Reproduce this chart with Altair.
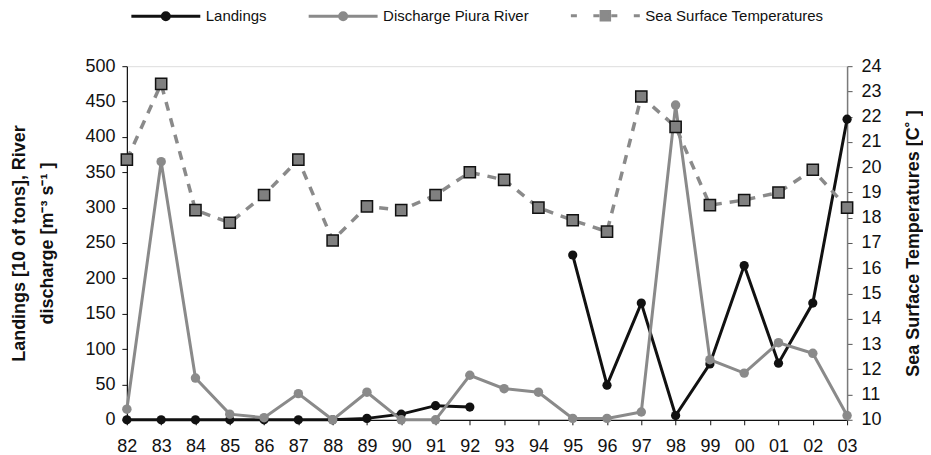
import altair as alt
import pandas as pd

years = ["82", "83", "84", "85", "86", "87", "88", "89", "90", "91", "92",
         "93", "94", "95", "96", "97", "98", "99", "00", "01", "02", "03"]
landings = [0, 0, 0, 0, 0, 0, 0, 2, 8, 20, 18,
            None, None, 233, 49, 165, 6, 79, 218, 80, 165, 425]
discharge = [15, 365, 59, 8, 3, 37, 0, 39, 0, 0, 63,
             44, 39, 2, 2, 11, 445, 85, 66, 109, 94, 6]
sst = [20.3, 23.3, 18.3, 17.8, 18.9, 20.3, 17.1, 18.45, 18.3, 18.9, 19.8,
       19.5, 18.4, 17.9, 17.45, 22.8, 21.6, 18.5, 18.7, 19.0, 19.9, 18.4]

series = ["Landings", "Discharge Piura River", "Sea Surface Temperatures"]

FONT = "Liberation Sans"
BLACK = "#111111"
GRAY = "#8a8a8a"

# landings split into continuous runs (gap 93-94)
land_rows = []
seg = 0
prev_none = False
for y, v in zip(years, landings):
    if v is None:
        prev_none = True
        continue
    if prev_none:
        seg += 1
        prev_none = False
    land_rows.append({"yr": y, "v": v, "seg": seg})
land_df = pd.DataFrame(land_rows)
dis_df = pd.DataFrame({"yr": years, "v": discharge})
sst_df = pd.DataFrame({"yr": years, "t": sst})
leg_df = pd.DataFrame({"s": series})

xenc = alt.X("yr:O", sort=years, scale=alt.Scale(type="point", padding=0),
             axis=alt.Axis(title=None, labelAngle=0, labelFont=FONT, labelFontSize=18,
                           labelColor="#111", labelPadding=13, tickSize=5,
                           domainColor="#111", tickColor="#111", domainWidth=1.2,
                           grid=False))

yleft = alt.Y("v:Q", scale=alt.Scale(domain=[0, 500], nice=False),
              axis=alt.Axis(values=list(range(0, 501, 50)),
                            title=["Landings [10 of tons],  River", "discharge [m\u207b\u00b3 s\u207b\u00b9 ]"],
                            titleFont=FONT, titleFontSize=18, titleFontWeight="bold",
                            titleColor="#111", titleLineHeight=28, titlePadding=28,
                            labelFont=FONT, labelFontSize=18, labelColor="#111",
                            labelPadding=7, tickSize=5, domainColor="#111",
                            tickColor="#111", domainWidth=1.2, grid=False))

yright = alt.Y("t:Q", scale=alt.Scale(domain=[10, 24], nice=False),
               axis=alt.Axis(orient="right", values=list(range(10, 25)),
                             title="Sea Surface Temperatures [C\u02da ]",
                             titleAngle=270, titleFont=FONT, titleFontSize=18,
                             titleFontWeight="bold", titleColor="#111", titlePadding=41,
                             labelFont=FONT, labelFontSize=18, labelColor="#111",
                             labelPadding=9, tickSize=5, domainColor="#7a7a7a",
                             tickColor="#555", domainWidth=1.5, grid=False))

land_line = alt.Chart(land_df).mark_line(color=BLACK, strokeWidth=3).encode(
    x=xenc, y=yleft, detail="seg:N")
land_pts = alt.Chart(land_df).mark_point(filled=True, color=BLACK, size=85, opacity=1).encode(
    x=xenc, y=yleft)
dis_line = alt.Chart(dis_df).mark_line(color=GRAY, strokeWidth=3).encode(x=xenc, y=yleft)
dis_pts = alt.Chart(dis_df).mark_point(filled=True, color=GRAY, size=90, opacity=1).encode(
    x=xenc, y=yleft)

left = alt.layer(land_line, land_pts, dis_line, dis_pts)

sst_line = alt.Chart(sst_df).mark_line(color=GRAY, strokeWidth=3.5, strokeDash=[9, 8]).encode(
    x=xenc, y=yright)
sst_pts = alt.Chart(sst_df).mark_point(shape="square", filled=True, fill="#808080",
                                       stroke="#111", strokeWidth=1.5, size=125,
                                       opacity=1).encode(x=xenc, y=yright)

# legend symbols (line + marker glyphs); symbolSize 100 -> 5 px per path unit
circ = "M0.7,0A0.7,0.7,0,1,1,-0.7,0A0.7,0.7,0,1,1,0.7,0Z"
path_land = "M-6.9,0L6.9,0" + circ
path_dis = "M-6.9,0L6.9,0" + circ
path_sst = ("M-6.9,0L-5.7,0M-2.4,0L-1.2,0M1.2,0L2.4,0M5.7,0L6.9,0"
            "M-0.85,-0.85L0.85,-0.85L0.85,0.85L-0.85,0.85Z")

leg = alt.Legend(orient="none", legendX=31.5, legendY=-58, direction="horizontal",
                 columns=3, labelFont=FONT, labelFontSize=15, labelColor="#111",
                 labelOffset=32.5, columnPadding=35.5, symbolSize=100,
                 symbolStrokeWidth=3, labelLimit=300)

leg_layer = alt.Chart(leg_df).mark_point(filled=True, opacity=1).encode(
    fill=alt.Fill("s:N", scale=alt.Scale(domain=series, range=[BLACK, GRAY, GRAY]),
                  title=None, legend=leg),
    stroke=alt.Stroke("s:N", scale=alt.Scale(domain=series, range=[BLACK, GRAY, GRAY]),
                      title=None, legend=leg),
    shape=alt.Shape("s:N", scale=alt.Scale(domain=series, range=[path_land, path_dis, path_sst]),
                    title=None, legend=leg),
).transform_filter("false")

right = alt.layer(sst_line, sst_pts, leg_layer)

chart = alt.layer(left, right).resolve_scale(y="independent").properties(
    width=721, height=354,
    padding={"left": 2, "top": 0, "right": 0, "bottom": 0},
).configure_view(stroke=None).configure(font=FONT)

chart.save("out.html", embed_options={"renderer": "svg", "actions": False})
